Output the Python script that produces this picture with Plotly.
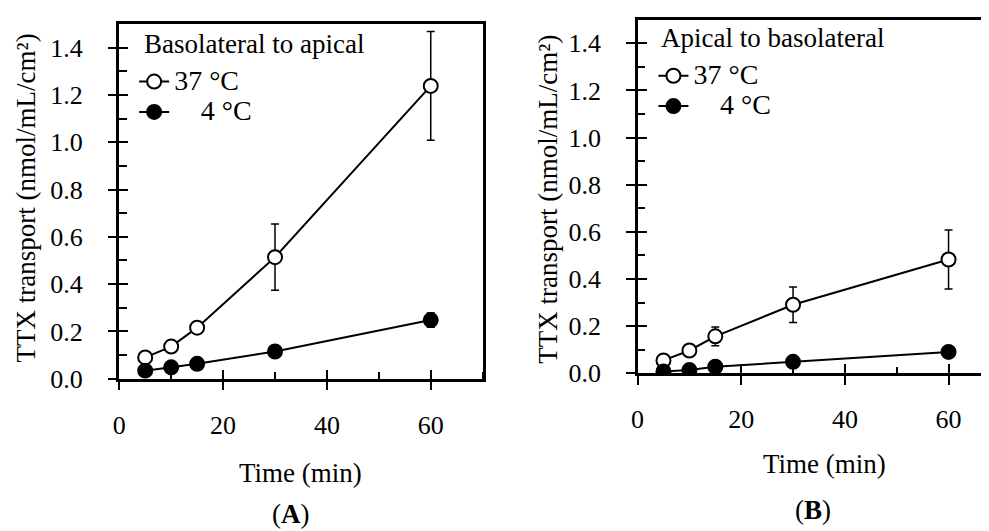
import plotly.graph_objects as go

# ---------------- data ----------------
time_min = [5, 10, 15, 30, 60]

a_37 = [0.09, 0.136, 0.216, 0.514, 1.238]
a_37_err = [0.0, 0.0, 0.0, 0.14, 0.23]
a_4 = [0.034, 0.048, 0.063, 0.115, 0.248]
a_4_err = [0.0, 0.0, 0.0, 0.0, 0.03]

b_37 = [0.055, 0.097, 0.157, 0.291, 0.483]
b_37_err = [0.0, 0.0, 0.04, 0.075, 0.125]
b_4 = [0.008, 0.014, 0.028, 0.049, 0.091]
b_4_err = [0.0, 0.0, 0.0, 0.02, 0.0]

y_ticks = [0.0, 0.2, 0.4, 0.6, 0.8, 1.0, 1.2, 1.4]
y_ticktext = ["0.0", "0.2", "0.4", "0.6", "0.8", "1.0", "1.2", "1.4"]
x_ticks = [0, 20, 40, 60]
x_ticktext = ["0", "20", "40", "60"]

legend_a_title = "Basolateral to apical"
legend_b_title = "Apical to basolateral"
series_names = ["37 °C", "\u2002\u2009 4 °C"]
y_title = "TTX transport (nmol/mL/cm²)"
x_title = "Time (min)"

FONT = "Liberation Serif"
W, H = 989, 531
TXT = 27
PAD = "\u2002\u2005"   # spacing between y tick labels and the axis

def px_x(p):
    return p / W

def px_y(p):
    return (H - p) / H

fig = go.Figure()

def add_series(xref, yref, yv, err, name, filled, legend):
    fig.add_trace(go.Scatter(
        x=time_min, y=yv,
        name=f'<span style="font-size:28px">{name}</span>',
        xaxis=xref, yaxis=yref,
        mode="lines+markers",
        line=dict(color="black", width=2),
        marker=dict(symbol="circle", size=14,
                    color="black" if filled else "white",
                    line=dict(color="black", width=2)),
        error_y=dict(type="data", array=err, visible=True,
                     color="black", thickness=1.5, width=4),
        legend=legend, showlegend=True,
    ))

add_series("x", "y", a_37, a_37_err, series_names[0], False, "legend")
add_series("x", "y", a_4, a_4_err, series_names[1], True, "legend")
add_series("x2", "y2", b_37, b_37_err, series_names[0], False, "legend2")
add_series("x2", "y2", b_4, b_4_err, series_names[1], True, "legend2")

# empty traces to activate overlay axes (inward half of crossing ticks)
fig.add_trace(go.Scatter(x=[], y=[], xaxis="x3", yaxis="y3", showlegend=False))
fig.add_trace(go.Scatter(x=[], y=[], xaxis="x4", yaxis="y4", showlegend=False))

tickfont = dict(family=FONT, size=26, color="black")

# geometry
A_dom_x = [px_x(105), px_x(471)]
A_dom_y = [px_y(381.5), px_y(16.4)]
B_dom_x = [px_x(627), 1.0]
B_dom_y = [px_y(376), px_y(12)]
x_range_a = [0, 70]
x_range_b = [0, (W - 627) / 5.22]
y_range = [0, 1.5]

def xaxis_main(domain, rng, anchor, mirror=True):
    return dict(domain=domain, range=rng, anchor=anchor,
                tickmode="array", tickvals=x_ticks, ticktext=x_ticktext,
                ticks="outside", ticklen=9, tickwidth=2, tickcolor="black",
                minor=dict(tickmode="array", tickvals=[10, 30, 50, 70], ticks="inside",
                           ticklen=7, tickwidth=2, tickcolor="black", showgrid=False),
                showline=True, linecolor="black", linewidth=2.5, mirror=mirror,
                showgrid=False, zeroline=False, tickfont=tickfont,
                ticklabelstandoff=12)

def yaxis_main(domain, anchor, mirror=True):
    return dict(domain=domain, range=y_range, anchor=anchor,
                tickmode="array", tickvals=y_ticks,
                ticktext=[t + PAD for t in y_ticktext],
                ticks="outside", ticklen=9, tickwidth=2, tickcolor="black",
                minor=dict(tickmode="array", tickvals=[0.1, 0.3, 0.5, 0.7, 0.9, 1.1, 1.3],
                           ticks="inside", ticklen=8, tickwidth=2, tickcolor="black",
                           showgrid=False),
                showline=True, linecolor="black", linewidth=2.5, mirror=mirror,
                showgrid=False, zeroline=False, tickfont=tickfont)

def x_overlay(domain, rng, anchor, over):
    return dict(domain=domain, range=rng, anchor=anchor, overlaying=over,
                tickmode="array", tickvals=x_ticks, ticks="inside", ticklen=9,
                tickwidth=2, tickcolor="black", showticklabels=False,
                showline=False, showgrid=False, zeroline=False)

def y_overlay(domain, anchor, over):
    return dict(domain=domain, range=y_range, anchor=anchor, overlaying=over,
                tickmode="array", tickvals=y_ticks, ticks="inside", ticklen=9,
                tickwidth=2, tickcolor="black", showticklabels=False,
                showline=False, showgrid=False, zeroline=False, side="left")

legend_common = dict(
    bgcolor="rgba(0,0,0,0)", borderwidth=0,
    font=dict(family=FONT, size=21, color="black"),
    traceorder="normal", xanchor="left", yanchor="top",
    itemclick=False, itemdoubleclick=False, tracegroupgap=0,
)

def ann(text, x, y, size=TXT, angle=0, xanchor="center", pad=1):
    return dict(text=text, x=px_x(x), y=px_y(y), xref="paper", yref="paper",
                showarrow=False, xanchor=xanchor, yanchor="middle", textangle=angle,
                borderpad=pad,
                font=dict(family=FONT, size=size, color="black"))

fig.update_layout(
    width=W, height=H,
    margin=dict(l=0, r=0, t=0, b=0),
    paper_bgcolor="white", plot_bgcolor="white",
    showlegend=True,
    xaxis=xaxis_main(A_dom_x, x_range_a, "y"),
    yaxis=yaxis_main(A_dom_y, "x"),
    xaxis2=xaxis_main(B_dom_x, x_range_b, "y2"),
    yaxis2=yaxis_main(B_dom_y, "x2", mirror=False),
    xaxis3=x_overlay(A_dom_x, x_range_a, "y3", "x"),
    yaxis3=y_overlay(A_dom_y, "x3", "y"),
    xaxis4=x_overlay(B_dom_x, x_range_b, "y4", "x2"),
    yaxis4=y_overlay(B_dom_y, "x4", "y2"),
    legend=dict(x=px_x(120), y=px_y(55), **legend_common),
    legend2=dict(x=px_x(643), y=px_y(49), **legend_common),
    annotations=[
        ann(legend_a_title, 128, 37, xanchor="left"),
        ann(legend_b_title, 649, 31, xanchor="left"),
        ann(y_title, 12, 195, angle=-90, pad=0),
        ann(y_title, 537, 197, angle=-90, pad=0),
        ann(x_title, 288, 479),
        ann(x_title, 815, 469),
        ann("(<b>A</b>)", 278, 521),
        ann("(<b>B</b>)", 804, 517),
    ],
)

fig.write_html("out.html")
